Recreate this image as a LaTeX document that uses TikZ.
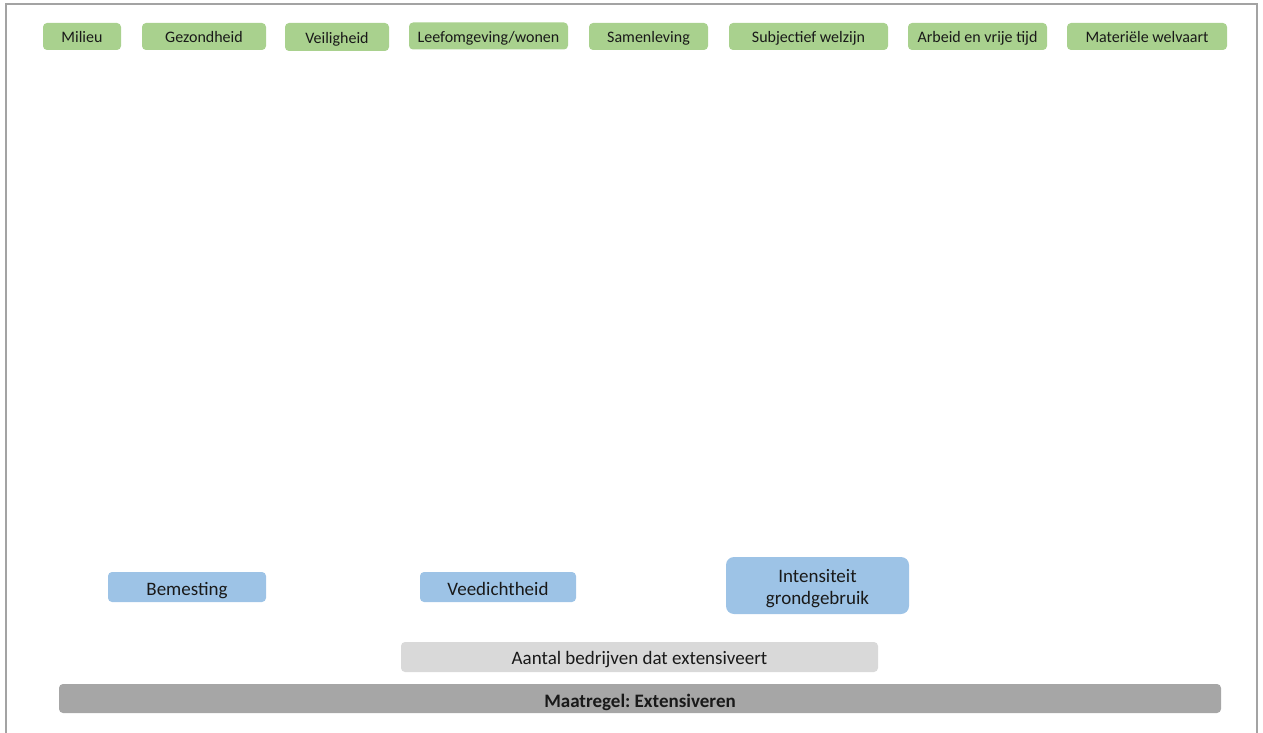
\documentclass[tikz,border=0pt]{standalone}
\usepackage{fontspec}
\setmainfont{Carlito}
\definecolor{kgreen}{HTML}{A9D18E}
\definecolor{kblue}{HTML}{9DC3E6}
\definecolor{klight}{HTML}{D9D9D9}
\definecolor{kdark}{HTML}{A6A6A6}
\definecolor{kframe}{HTML}{A3A3A3}
\tikzset{gn/.append style={fill=kgreen, rounded corners=4pt, minimum height=27pt, inner sep=0pt, text height=13pt, text depth=0pt, text=black!90, font=\fontsize{16}{19}\selectfont}}
\tikzset{bn/.append style={fill=kblue, rounded corners=4pt, minimum height=30pt, inner sep=0pt, text height=16pt, text depth=0pt, text=black!90, font=\fontsize{19}{22}\selectfont, align=center}}
\tikzset{ln/.append style={fill=klight, rounded corners=4pt, minimum height=30pt, inner sep=0pt, text height=15pt, text depth=0pt, text=black!90, font=\fontsize{19}{23}\selectfont}}
\frenchspacing
\begin{document}
\begin{tikzpicture}[x=1pt,y=-1pt]
                \useasboundingbox (0,0) rectangle (1263,733);
                % frame
                \draw[kframe, line width=2pt] (6,733) -- (6,4) -- (1257,4) -- (1257,733);
                % outcome domains
                \node[gn, minimum width=78pt] (mil) at (82,36.5) {Milieu};
                \node[gn, minimum width=124pt] (gez) at (204,36.5) {Gezondheid};
                \node[gn, minimum width=104pt, minimum height=28pt] (vei) at (337,37) {Veiligheid};
                \node[gn, minimum width=159pt] (lee) at (488.5,36) {Leefomgeving/wonen};
                \node[gn, minimum width=119pt] (sam) at (648.5,36.5) {Samenleving};
                \node[gn, minimum width=159pt] (sub) at (808.5,36.5) {Subjectief welzijn};
                \node[gn, minimum width=139pt] (arb) at (977.5,36.5) {Arbeid en vrije tijd};
                \node[gn, minimum width=160pt] (mat) at (1147,36.5) {Materiële welvaart};
                % effects
                \node[bn, minimum width=158pt] (bem) at (187,587) {Bemesting};
                \node[bn, minimum width=156pt] (vee) at (498,587) {Veedichtheid};
                \node[bn, minimum width=183pt, minimum height=57pt, rounded corners=8pt, text height=37.6pt] (int) at (817.5,585.5) {Intensiteit\\grondgebruik};
                % measure
                \node[ln, minimum width=477pt] (aan) at (639.5,657) {Aantal bedrijven dat extensiveert};
                \node[ln, fill=kdark, minimum width=1162pt, minimum height=29pt, text height=17pt, font=\fontsize{19}{23}\selectfont\bfseries] (maa) at (640,698.5) {Maatregel: Extensiveren};
            \end{tikzpicture}
\end{document}
